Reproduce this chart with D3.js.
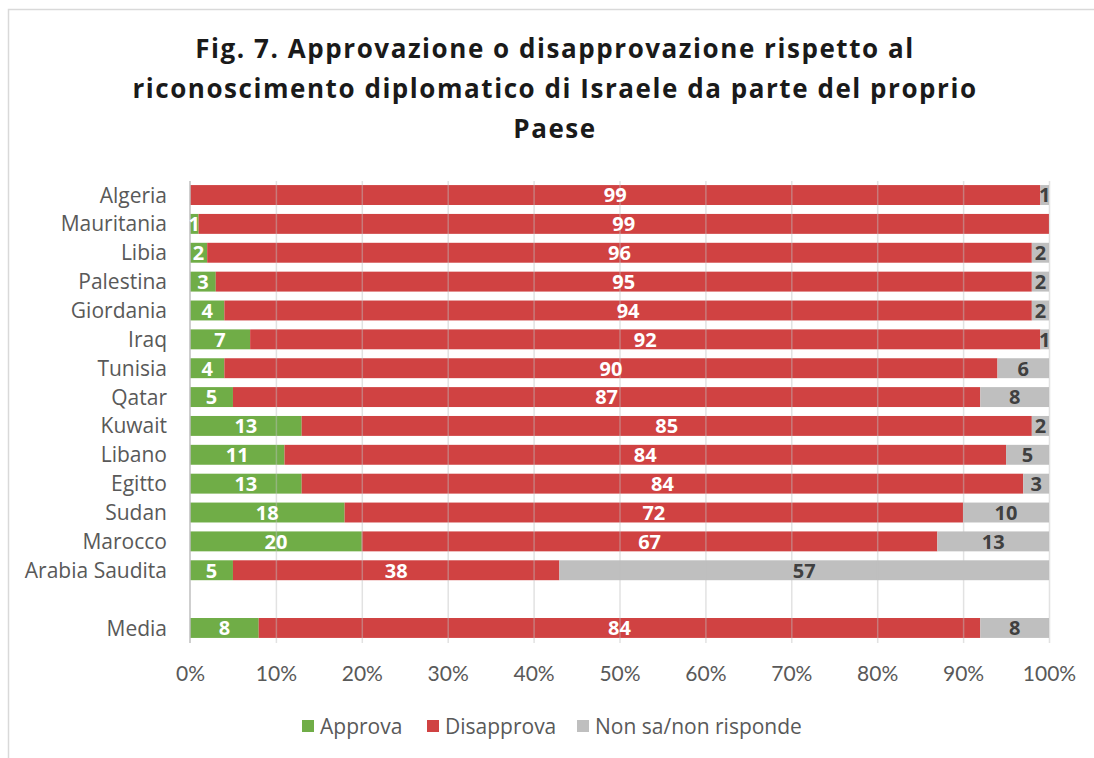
<!DOCTYPE html>
<html>
<head>
<meta charset="utf-8">
<script src="https://cdn.jsdelivr.net/npm/d3@7"></script>
<style>
  body { margin: 0; background: #fff; }
  svg { display: block; font-family: "Open Sans", sans-serif; }
</style>
</head>
<body>
<div id="chart"></div>
<script>
"use strict";

var countries = ["Algeria", "Mauritania", "Libia", "Palestina", "Giordania", "Iraq", "Tunisia", "Qatar",
  "Kuwait", "Libano", "Egitto", "Sudan", "Marocco", "Arabia Saudita", "", "Media"];
var approva =    [0, 1, 2, 3, 4, 7, 4, 5, 13, 11, 13, 18, 20, 5, null, 8];
var disapprova = [99, 99, 96, 95, 94, 92, 90, 87, 85, 84, 84, 72, 67, 38, null, 84];
var nonSa =      [1, 0, 2, 2, 2, 1, 6, 8, 2, 5, 3, 10, 13, 57, null, 8];
var seriesNames = ["Approva", "Disapprova", "Non sa/non risponde"];
var xTicks = [0, 0.1, 0.2, 0.3, 0.4, 0.5, 0.6, 0.7, 0.8, 0.9, 1];
var titleLines = ["Fig. 7. Approvazione o disapprovazione rispetto al",
  "riconoscimento diplomatico di Israele da parte del proprio", "Paese"];

var colors = ["#70ad47", "#d04242", "#bfbfbf"];
var labelColors = ["#ffffff", "#ffffff", "#404040"];

var width = 1094, height = 758;
var svg = d3.select("#chart").append("svg")
  .attr("width", width)
  .attr("height", height);

// chart frame
svg.append("rect")
  .attr("x", 8.5).attr("y", 9.5)
  .attr("width", 1200).attr("height", 800)
  .style("fill", "#fff")
  .style("stroke", "#d9d9d9")
  .style("stroke-width", 1.5);

// title
svg.append("text")
  .attr("text-anchor", "middle")
  .style("font-size", "26px")
  .style("letter-spacing", "1.55px")
  .style("font-weight", "bold")
  .style("fill", "#1a1a1a")
  .selectAll("tspan")
  .data(titleLines)
  .enter().append("tspan")
  .attr("x", 555)
  .attr("y", function(d, i) { return 58 + i * 40; })
  .text(function(d) { return d; });

var x = d3.scaleLinear().domain([0, 1]).range([190, 1049]);
var y = d3.scaleBand()
  .domain(countries.map(function(d, i) { return i; }))
  .range([180.6, 642.4])
  .paddingInner(0.31)
  .paddingOuter(0.155);

var rows = countries.map(function(c, i) {
  return { name: c, values: [approva[i], disapprova[i], nonSa[i]] };
});

var stacked = [];
rows.forEach(function(r, i) {
  if (r.values[0] === null) return;
  var total = d3.sum(r.values);
  var acc = 0;
  r.values.forEach(function(v, k) {
    stacked.push({ row: i, k: k, v: v, x0: acc / total, x1: (acc + v) / total });
    acc += v;
  });
});

// bars
svg.append("g").selectAll("rect")
  .data(stacked.filter(function(d) { return d.v > 0; }))
  .enter().append("rect")
  .attr("x", function(d) { return x(d.x0); })
  .attr("y", function(d) { return y(d.row); })
  .attr("width", function(d) { return x(d.x1) - x(d.x0); })
  .attr("height", y.bandwidth())
  .style("fill", function(d) { return colors[d.k]; });

// gridlines (drawn lightly over the bars)
svg.append("g").selectAll("line")
  .data(xTicks.slice(1))
  .enter().append("line")
  .attr("x1", function(d) { return x(d) + 0.5; })
  .attr("x2", function(d) { return x(d) + 0.5; })
  .attr("y1", 181)
  .attr("y2", 643)
  .style("stroke", "#bfbfbf")
  .style("stroke-opacity", 0.45)
  .style("stroke-width", 1.5);

// left axis line
svg.append("line")
  .attr("x1", 190).attr("x2", 190)
  .attr("y1", 181).attr("y2", 643)
  .style("stroke", "#bfbfbf")
  .style("stroke-width", 1.5);

// value labels
svg.append("g").selectAll("text")
  .data(stacked.filter(function(d) { return d.v > 0; }))
  .enter().append("text")
  .attr("x", function(d) { return (x(d.x0) + x(d.x1)) / 2; })
  .attr("y", function(d) { return y(d.row) + y.bandwidth() / 2; })
  .attr("dy", "0.37em")
  .attr("text-anchor", "middle")
  .style("font-size", "20px")
  .style("font-weight", "bold")
  .style("fill", function(d) { return labelColors[d.k]; })
  .text(function(d) { return d.v; });

// category labels
svg.append("g").selectAll("text")
  .data(rows)
  .enter().append("text")
  .attr("x", 167)
  .attr("y", function(d, i) { return y(i) + y.bandwidth() / 2; })
  .attr("dy", "0.36em")
  .attr("text-anchor", "end")
  .style("font-size", "21px")
  .style("fill", "#595959")
  .text(function(d) { return d.name; });

// x axis tick labels
var xAxis = d3.axisBottom(x)
  .tickValues(xTicks)
  .tickFormat(d3.format(".0%"))
  .tickSize(0)
  .tickPadding(0);
var ax = svg.append("g")
  .attr("transform", "translate(0,666)")
  .call(xAxis);
ax.select(".domain").remove();
ax.selectAll("text")
  .style("font-family", "Lato, sans-serif")
  .style("font-size", "21px")
  .style("fill", "#595959");

// legend
var legendX = [302, 427, 577];
var legend = svg.append("g").selectAll("g")
  .data(seriesNames)
  .enter().append("g")
  .attr("transform", function(d, i) { return "translate(" + legendX[i] + ",726)"; });
legend.append("rect")
  .attr("x", 0).attr("y", -6)
  .attr("width", 12).attr("height", 12)
  .style("fill", function(d, i) { return colors[i]; });
legend.append("text")
  .attr("x", 18)
  .attr("dy", "0.36em")
  .style("font-size", "21px")
  .style("fill", "#595959")
  .text(function(d) { return d; });
</script>
</body>
</html>
